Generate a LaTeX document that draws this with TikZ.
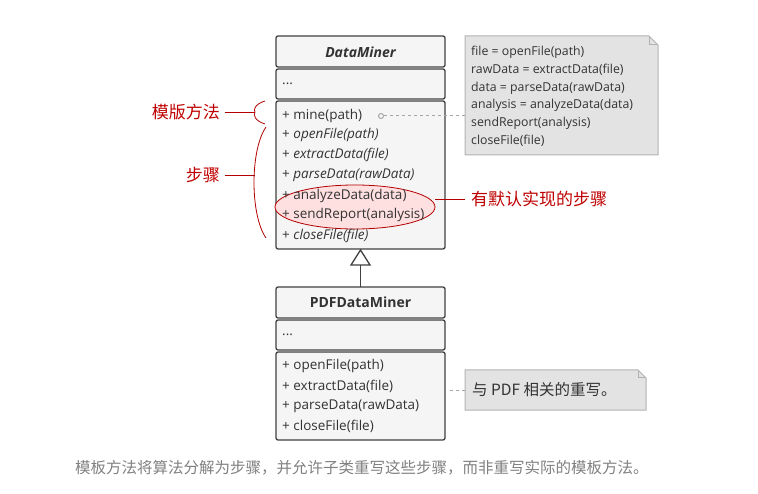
\documentclass[tikz,border=0pt]{standalone}
\usepackage{fontspec}
\setmainfont{Open Sans}
\newfontfamily\cjk{Noto Sans CJK SC}
\begin{document}
\begin{tikzpicture}[x=1pt,y=-1pt,
  box/.style={draw=black!75,line width=1.3pt,fill=black!4,rounded corners=2pt},
  mtxt/.style={anchor=west,inner sep=0,font=\fontsize{13.5}{15}\selectfont,text=black!80},
  ntxt/.style={anchor=west,inner sep=0,font=\fontsize{12.3}{14}\selectfont,text=black!80},
  red/.style={draw=red!70!black,line width=0.8pt},
  rlab/.style={text=red!75!black,font=\cjk\fontsize{17}{19}\selectfont,inner sep=0}]
\useasboundingbox (0,0) rectangle (758,494);
% DataMiner
\path[box] (276,36) rectangle (445,67);
\path[box] (276,69) rectangle (445,99);
\path[box] (276,101) rectangle (445,249);
\node[inner sep=0,font=\bfseries\itshape\fontsize{14}{16}\selectfont,text=black!80] (dm) at (360.5,52) {DataMiner};
\node[mtxt] (da) at (282,84) {...};
% ellipse
\draw[red,fill=red!12] (355,207) ellipse (80 and 22);
\node[mtxt] (m1) at (282,116) {+ mine(path)};
\node[mtxt] (m2) at (282,135) {+ \textit{openFile(path)}};
\node[mtxt] (m3) at (282,155) {+ \textit{extractData(file)}};
\node[mtxt] (m4) at (282,175) {+ \textit{parseData(rawData)}};
\node[mtxt] (m5) at (282,196) {+ analyzeData(data)};
\node[mtxt] (m6) at (282,215) {+ sendReport(analysis)};
\node[mtxt] (m7) at (282,236) {+ \textit{closeFile(file)}};
% PDFDataMiner
\path[box] (276,287) rectangle (445,318);
\path[box] (276,320) rectangle (445,350);
\path[box] (276,352) rectangle (445,440);
\node[inner sep=0,font=\bfseries\fontsize{14}{16}\selectfont,text=black!80] (pm) at (360.5,302) {PDFDataMiner};
\node[mtxt] (pa) at (282,335) {...};
\node[mtxt] (p1) at (282,366) {+ openFile(path)};
\node[mtxt] (p2) at (282,386) {+ extractData(file)};
\node[mtxt] (p3) at (282,406) {+ parseData(rawData)};
\node[mtxt] (p4) at (282,426) {+ closeFile(file)};
% inheritance
\coordinate (tip) at (360.5,250);
\coordinate (pt) at (360.5,287);
\draw[black!75,line width=1.3pt] (pt) -- (360.5,265);
\draw[black!75,line width=1.3pt,fill=white] (tip) -- (351,265) -- (370,265) -- cycle;
% note 1
\path[draw=black!30,line width=1pt,fill=black!11] (465,36) -- (649,36) -- (658,45) -- (658,155) -- (465,155) -- cycle;
\draw[black!30,line width=1pt] (649,36) -- (649,45) -- (658,45);
\node[ntxt] (n1) at (471,52) {file = openFile(path)};
\node[ntxt] at (471,70) {rawData = extractData(file)};
\node[ntxt] at (471,88) {data = parseData(rawData)};
\node[ntxt] at (471,105) {analysis = analyzeData(data)};
\node[ntxt] at (471,123) {sendReport(analysis)};
\node[ntxt] at (471,141) {closeFile(file)};
\node[circle,draw=black!35,line width=1pt,inner sep=0,minimum size=5pt] (c1) at (381,116) {};
\draw[black!35,dashed,line width=1pt] (c1) -- (465,116);
% note 2
\path[draw=black!30,line width=1pt,fill=black!11] (465,370) -- (638,370) -- (646,378) -- (646,410) -- (465,410) -- cycle;
\draw[black!30,line width=1pt] (638,370) -- (638,378) -- (646,378);
\node[inner sep=0,anchor=west,font=\cjk\fontsize{15.5}{17}\selectfont,text=black!80] (n2) at (472,390) {与 PDF 相关的重写。};
\draw[black!35,dashed,line width=1pt] (450,390) -- (465,390);
% red labels
\node[rlab,anchor=east] (l1) at (220,112) {模版方法};
\draw[red] (225,112) -- (255,112);
\draw[red] (265,101) .. controls (255,104) and (253,110) .. (255,112) .. controls (253,115) and (255,121) .. (265,124);
\node[rlab,anchor=east] (l2) at (220,175) {步骤};
\draw[red] (225,175) -- (255,175);
\draw[red] (266,127) .. controls (250,150) and (250,215) .. (266,238);
\node[rlab,anchor=west] (l3) at (471,199) {有默认实现的步骤};
\draw[red] (435,199) -- (465,199);
% caption
\node[inner sep=0,anchor=west,font=\cjk\fontsize{15.5}{17}\selectfont,text=black!50] (cap) at (75,468) {模板方法将算法分解为步骤，并允许子类重写这些步骤，而非重写实际的模板方法。};
\end{tikzpicture}
\end{document}
